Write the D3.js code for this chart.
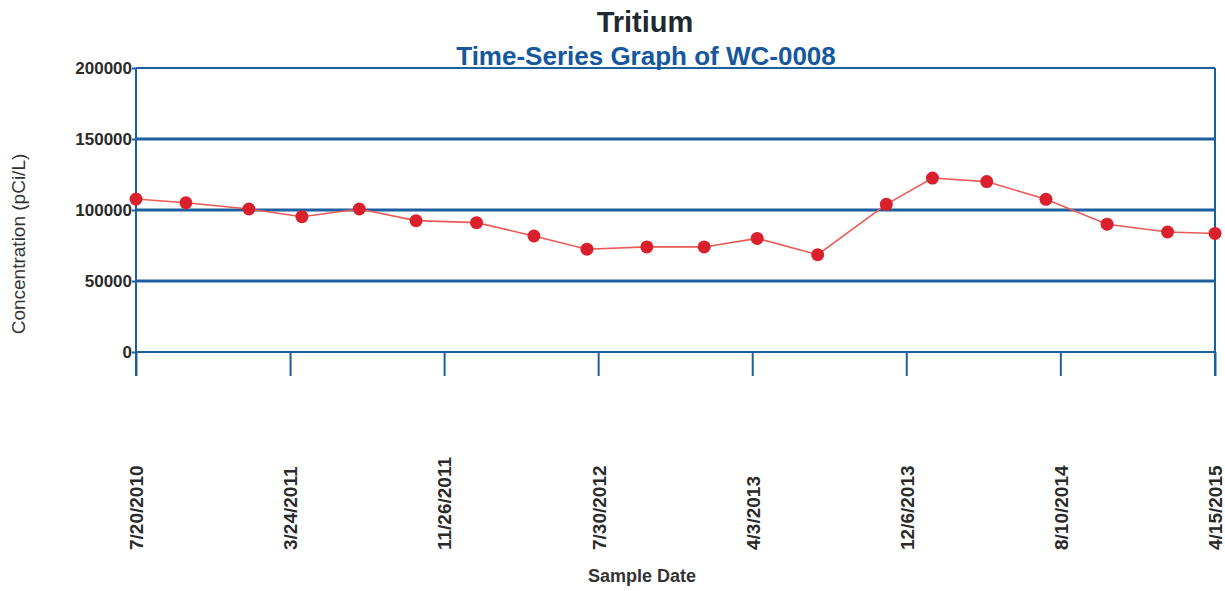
<!DOCTYPE html>
<html>
<head>
<meta charset="utf-8">
<script src="https://cdn.jsdelivr.net/npm/d3@7"></script>
<style>
  body { margin: 0; background: #fff; }
  svg { display: block; }
</style>
</head>
<body>
<div id="chart"></div>
<script>
// sample dates and tritium results (pCi/L) for WC-0008
const sampleDates = ["2010-07-20", "2010-10-08", "2011-01-17", "2011-04-12", "2011-07-13",
  "2011-10-12", "2012-01-17", "2012-04-18", "2012-07-12", "2012-10-16", "2013-01-16",
  "2013-04-11", "2013-07-17", "2013-11-04", "2014-01-17", "2014-04-14", "2014-07-18",
  "2014-10-24", "2015-01-29", "2015-04-15"];
const tritium = [107700, 105100, 100700, 95300, 100700, 92500, 91100, 81700, 72400,
  74000, 74000, 80000, 68500, 104000, 122500, 120000, 107500, 90000, 84500, 83500];
const xTickDates = ["2010-07-20", "2011-03-24", "2011-11-26", "2012-07-30",
  "2013-04-03", "2013-12-06", "2014-08-10", "2015-04-15"];
const yTicks = [0, 50000, 100000, 150000, 200000];

const W = 1225, H = 591;
const margin = { top: 68, left: 136, right: 10, bottom: 239 };
const width = W - margin.left - margin.right,
  height = H - margin.top - margin.bottom;

const parse = d3.timeParse("%Y-%m-%d");
const fmt = d => (d.getMonth() + 1) + "/" + d.getDate() + "/" + d.getFullYear();
const data = sampleDates.map((d, i) => ({ date: parse(d), value: tritium[i] }));

const blue = "#1d5f9e";

const svg = d3.select("#chart").append("svg")
  .attr("width", W).attr("height", H)
  .style("font-family", "'Liberation Sans', Arial, sans-serif");

const g = svg.append("g").attr("transform", "translate(" + margin.left + "," + margin.top + ")");

const x = d3.scaleTime().domain([parse(xTickDates[0]), parse(xTickDates[xTickDates.length - 1])]).range([0, width]);
const y = d3.scaleLinear().domain([0, 200000]).range([height, 0]);

// horizontal grid
g.selectAll(".grid").data(yTicks.filter(d => d > 0 && d < 200000))
  .enter().append("line")
  .attr("x1", 0).attr("x2", width)
  .attr("y1", d => y(d)).attr("y2", d => y(d))
  .attr("stroke", blue).attr("stroke-width", 3);

// frame top
g.append("line").attr("x1", 0).attr("x2", width).attr("y1", y(200000)).attr("y2", y(200000))
  .attr("stroke", blue).attr("stroke-width", 2);

// y axis
const yAxis = g.append("g")
  .call(d3.axisLeft(y).tickValues(yTicks).tickSize(4).tickFormat(d => d));
yAxis.select(".domain").remove();
yAxis.selectAll("line").attr("stroke", blue).attr("stroke-width", 2);
yAxis.selectAll("text")
  .attr("x", -4)
  .attr("fill", "#2a2a2a")
  .style("font-size", "17px").style("font-weight", "bold");

// x axis: ticks hang down below the baseline
const xAxis = g.append("g").attr("transform", "translate(0," + height + ")")
  .call(d3.axisBottom(x).tickValues(xTickDates.map(parse)).tickSize(24).tickFormat(fmt));
xAxis.select(".domain").remove();
xAxis.selectAll("line").attr("stroke", blue).attr("stroke-width", 2);
xAxis.selectAll("text")
  .attr("transform", "translate(0,198) rotate(-90)")
  .attr("x", 0).attr("y", 0).attr("dy", "0.36em")
  .attr("text-anchor", "start")
  .attr("fill", "#2a2a2a")
  .style("font-size", "19px").style("font-weight", "bold");

// baseline and side lines
g.append("line").attr("x1", 0).attr("x2", width).attr("y1", height).attr("y2", height)
  .attr("stroke", blue).attr("stroke-width", 2);
g.append("line").attr("x1", 0).attr("x2", 0).attr("y1", 0).attr("y2", height + 24)
  .attr("stroke", blue).attr("stroke-width", 2);
g.append("line").attr("x1", width).attr("x2", width).attr("y1", 0).attr("y2", height + 24)
  .attr("stroke", blue).attr("stroke-width", 2);

// series
const line = d3.line().x(d => x(d.date)).y(d => y(d.value));
g.append("path").datum(data)
  .attr("d", line)
  .attr("fill", "none")
  .attr("stroke", "#ea5a55")
  .attr("stroke-width", 1.6);

g.selectAll(".pt").data(data)
  .enter().append("circle")
  .attr("class", "pt")
  .attr("cx", d => x(d.date))
  .attr("cy", d => y(d.value))
  .attr("r", 6.5)
  .attr("fill", "#d9202c");

// titles
svg.append("text").attr("x", 645).attr("y", 32)
  .attr("text-anchor", "middle")
  .attr("fill", "#1e2a30")
  .style("font-size", "29px").style("font-weight", "bold")
  .text("Tritium");
svg.append("text").attr("x", 646).attr("y", 65)
  .attr("text-anchor", "middle")
  .attr("fill", "#1558a0")
  .style("font-size", "26px").style("font-weight", "bold")
  .text("Time-Series Graph of WC-0008");

svg.append("text")
  .attr("transform", "translate(25,244) rotate(-90)")
  .attr("text-anchor", "middle")
  .attr("fill", "#333")
  .style("font-size", "19px")
  .text("Concentration (pCi/L)");

svg.append("text").attr("x", 642).attr("y", 582)
  .attr("text-anchor", "middle")
  .attr("fill", "#333")
  .style("font-size", "18px").style("font-weight", "bold")
  .text("Sample Date");
</script>
</body>
</html>
